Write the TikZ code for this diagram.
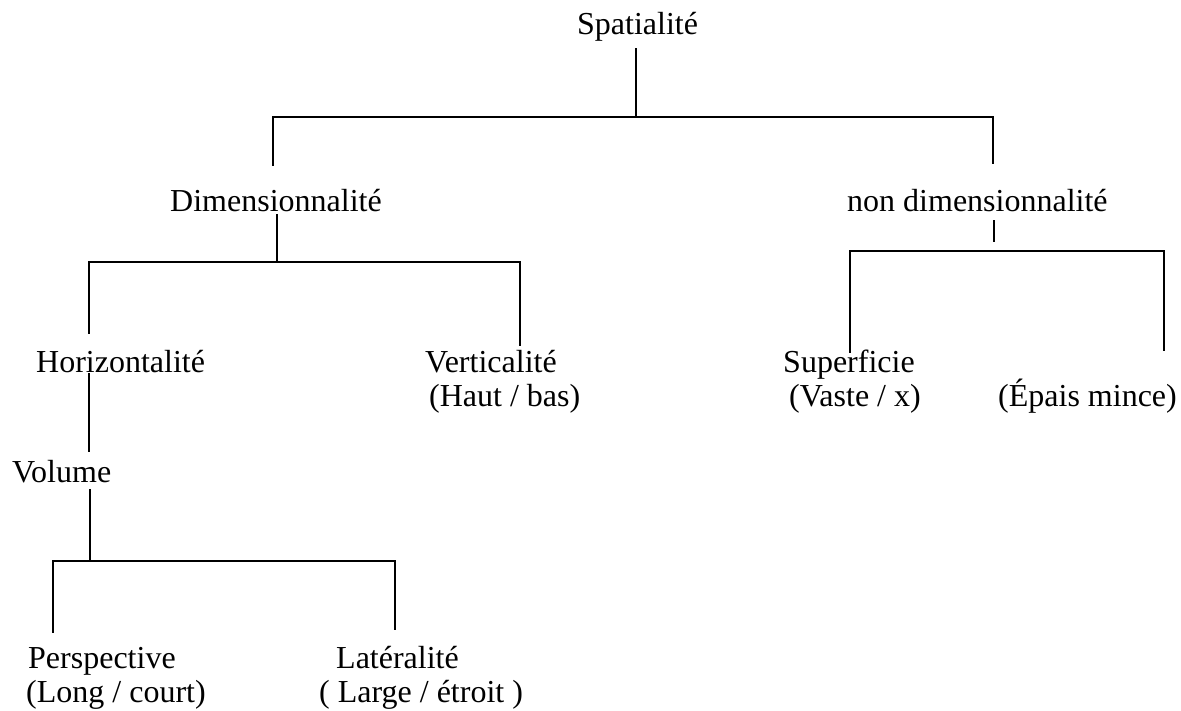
\documentclass[tikz,border=0pt]{standalone}
\usepackage{fontspec}
\setmainfont{Liberation Serif}
\begin{document}
\begin{tikzpicture}[x=1pt,y=-1pt,
  lbl/.style={anchor=base west,inner sep=0pt,font=\fontsize{32}{34}\selectfont},
  link/.style={line width=1.6pt,line cap=rect}]
\useasboundingbox (0,0) rectangle (1181,711);

% ---- labels ----
\node[lbl] (spat)  at (577,35)  {Spatialité};
\node[lbl] (dim)   at (170,212) {Dimensionnalité};
\node[lbl] (ndim)  at (847,212) {non dimensionnalité};
\node[lbl] (hor)   at (36,372)  {Horizontalité};
\node[lbl] (vert)  at (425,372) {Verticalité};
\node[lbl] (verts) at (429,406) {(Haut / bas)};
\node[lbl] (sup)   at (783,372) {Superficie};
\node[lbl] (sups)  at (789,406) {(Vaste / x)};
\node[lbl] (epais) at (998,406) {(Épais mince)};
\node[lbl] (vol)   at (12,482)  {Volume};
\node[lbl] (persp) at (28,668)  {Perspective};
\node[lbl] (persps) at (26,702) {(Long / court)};
\node[lbl] (lat)   at (336,668) {Latéralité};
\node[lbl] (lats)  at (319,702) {( Large / étroit )};

% ---- junction points ----
\coordinate (s0) at (636,49);   \coordinate (s1) at (636,117);
\coordinate (sL) at (273,117);  \coordinate (sR) at (993,117);
\coordinate (dL) at (273,165);  \coordinate (nR) at (993,163);

\coordinate (d0) at (277,215);  \coordinate (d1) at (277,262);
\coordinate (hL) at (89,262);   \coordinate (vR) at (520,262);
\coordinate (hE) at (89,333);   \coordinate (vE) at (520,345);

\coordinate (n0) at (994,221);  \coordinate (n1) at (994,241);
\coordinate (pL) at (850,251);  \coordinate (pR) at (1164,251);
\coordinate (pLe) at (850,352); \coordinate (pRe) at (1164,350);

\coordinate (h0) at (89,374);   \coordinate (h1) at (89,451);
\coordinate (v0) at (90,490);   \coordinate (v1) at (90,561);
\coordinate (qL) at (53,561);   \coordinate (qR) at (395,561);
\coordinate (qLe) at (53,632);  \coordinate (qRe) at (395,629);

% ---- connectors ----
\draw[link] (s0) -- (s1);
\draw[link] (dL) -- (sL) -- (sR) -- (nR);

\draw[link] (d0) -- (d1);
\draw[link] (hE) -- (hL) -- (vR) -- (vE);

\draw[link] (n0) -- (n1);
\draw[link] (pLe) -- (pL) -- (pR) -- (pRe);

\draw[link] (h0) -- (h1);
\draw[link] (v0) -- (v1);
\draw[link] (qLe) -- (qL) -- (qR) -- (qRe);
\end{tikzpicture}
\end{document}
